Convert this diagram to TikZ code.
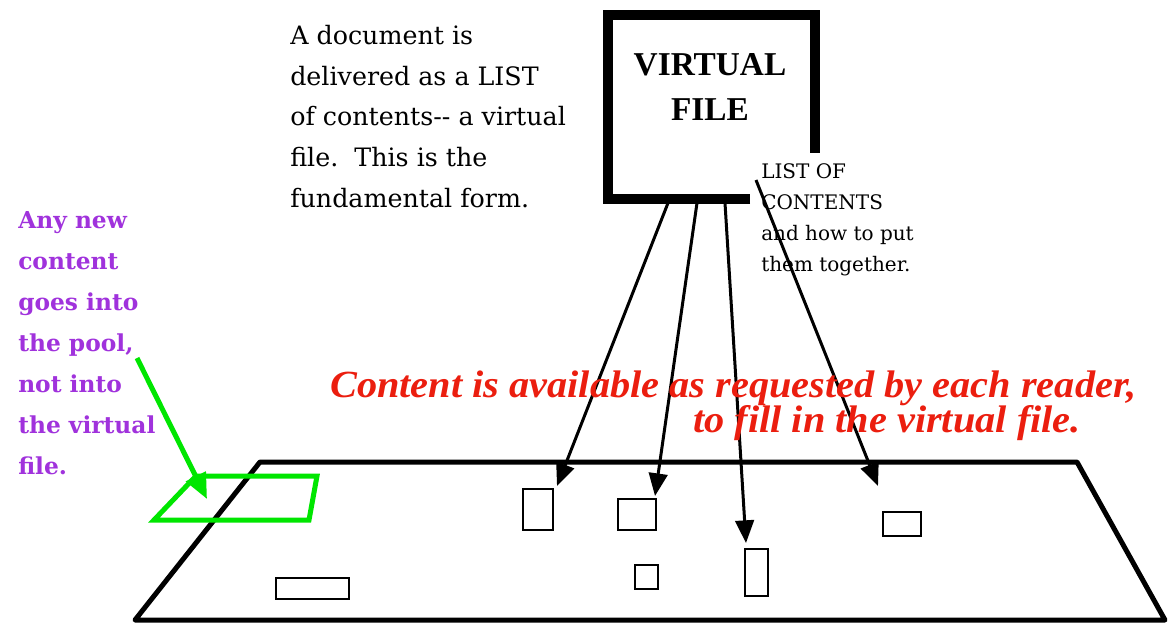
\documentclass[tikz,border=0pt]{standalone}
\usepackage{fontspec}
\setmainfont{DejaVu Serif}
\newfontfamily\timesf{Liberation Serif}
\newfontfamily\timesw[FakeStretch=1.05]{Liberation Serif}
\usetikzlibrary{arrows.meta}
\definecolor{pgreen}{RGB}{0,230,0}
\definecolor{ppurple}{RGB}{160,50,220}
\definecolor{pred}{RGB}{235,30,15}
\tikzset{
  frameline/.style={line width=7.5pt},
  poolline/.style={line width=3.75pt, line join=round},
  chunk/.style={line width=1.9pt},
  fetch/.style={line width=2.25pt, -{Triangle[length=17pt,width=14pt]}},
  newarrow/.style={pgreen, line width=3.75pt, -{Triangle[length=19pt,width=16pt]}},
  newchunk/.style={pgreen, line width=3.75pt, line join=miter},
  doctext/.style={inner sep=0pt, anchor=base west, align=left, font=\fontsize{19}{30.4}\selectfont},
  pooltext/.style={inner sep=0pt, anchor=base west, align=left, text=ppurple, font=\bfseries\fontsize{17.5}{30.75}\selectfont},
  listtext/.style={inner sep=0pt, anchor=base west, align=left, font=\fontsize{15}{23.25}\selectfont},
  vftext/.style={inner sep=0pt, anchor=base, align=center, font=\timesf\bfseries\fontsize{25}{33.75}\selectfont},
  redtext/.style={inner sep=0pt, anchor=base west, text=pred, font=\timesw\bfseries\itshape\fontsize{28.8}{34}\selectfont}
}
\begin{document}
\begin{tikzpicture}[x=0.75pt,y=-0.75pt]
\useasboundingbox (0,0) rectangle (1168,622);

% virtual file frame
\draw[frameline] (750,199) -- (608,199) -- (608,15) -- (815,15) -- (815,153);
\node[vftext] (vf) at (710,120) {VIRTUAL\\FILE};

% texts (anchor at baseline of last line)
\node[doctext] (doc) at (290,207) {A document is\\delivered as a LIST\\of contents-{}- a virtual\\file.\ \ This is the\\fundamental form.};
\node[pooltext] (newc) at (18,474) {Any new\\content\\goes into\\the pool,\\not into\\the virtual\\file.};
\node[listtext] (list) at (761,271) {LIST OF\\CONTENTS\\and how to put\\them together.};

% pool
\draw[poolline] (260,462) -- (1077,462) -- (1165,620) -- (135,620) -- cycle;

% content chunks
\draw[chunk] (523,489) rectangle (553,530);
\draw[chunk] (618,499) rectangle (656,530);
\draw[chunk] (635,565) rectangle (658,589);
\draw[chunk] (745,549) rectangle (768,596);
\draw[chunk] (883,512) rectangle (921,536);
\draw[chunk] (276,578) rectangle (349,599);

% arrow coordinates
\coordinate (s1) at (668,203);
\coordinate (s2) at (697,203);
\coordinate (s3) at (725,203);
\coordinate (s4) at (756,180);
\coordinate (e1) at (557,486);
\coordinate (e2) at (655,496);
\coordinate (e3) at (746,543);
\coordinate (e4) at (878,486);
\draw[fetch] (s1) -- (e1);
\draw[fetch] (s2) -- (e2);
\draw[fetch] (s3) -- (e3);
\draw[fetch] (s4) -- (e4);

% red text
\node[redtext] (red1) at (330,397) {Content is available as requested by each reader,};
\node[redtext] (red2) at (693,432) {to fill in the virtual file.};

% new content
\draw[newchunk] (196,476) -- (317,476) -- (309,520) -- (154,520) -- cycle;
\coordinate (g1) at (137,358);
\coordinate (g2) at (207,499);
\draw[newarrow] (g1) -- (g2);
\end{tikzpicture}
\end{document}
